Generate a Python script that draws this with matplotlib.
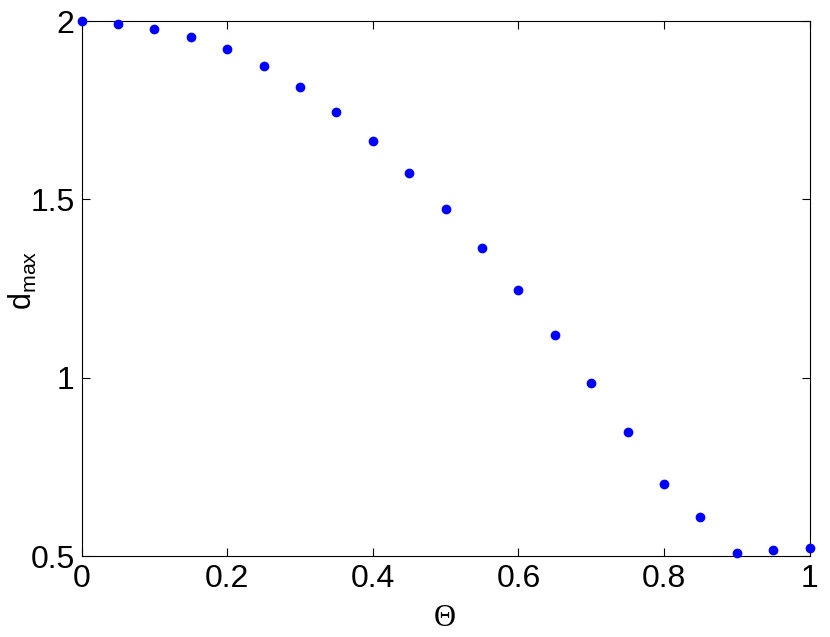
import numpy as np
import matplotlib
matplotlib.use('Agg')
import matplotlib.pyplot as plt

plt.rcParams['font.family'] = ['Liberation Sans', 'DejaVu Sans']
plt.rcParams['mathtext.fontset'] = 'custom'
plt.rcParams['mathtext.rm'] = 'Liberation Sans'
plt.rcParams['mathtext.it'] = 'Liberation Sans'

# data
theta = [0.0, 0.05, 0.1, 0.15, 0.2, 0.25, 0.3, 0.35, 0.4, 0.45, 0.5,
         0.55, 0.6, 0.65, 0.7, 0.75, 0.8, 0.85, 0.9, 0.95, 1.0]
dmax = [2.0, 1.993, 1.979, 1.956, 1.921, 1.874, 1.814, 1.745, 1.664, 1.573, 1.472,
        1.363, 1.245, 1.119, 0.986, 0.847, 0.703, 0.611, 0.509, 0.518, 0.523]
xticks = [0, 0.2, 0.4, 0.6, 0.8, 1]
yticks = [0.5, 1, 1.5, 2]

W, H = 830, 637
fig = plt.figure(figsize=(W / 100, H / 100), dpi=100)
ax = fig.add_axes([0.0984, 0.127, 0.877, 0.840])
ax.plot(theta, dmax, 'o', color='#0000ff', markersize=6, clip_on=False, zorder=3)

ax.set_xlim(0, 1)
ax.set_ylim(0.5, 2)
ax.set_xticks(xticks)
ax.set_xticklabels(['0', '0.2', '0.4', '0.6', '0.8', '1'])
ax.set_yticks(yticks)
ax.set_yticklabels(['0.5', '1', '1.5', '2'])
ax.tick_params(direction='in', top=True, right=True, length=6, width=0.8,
               labelsize=23)
ax.tick_params(axis='x', pad=6)
ax.tick_params(axis='y', pad=5)
for s in ax.spines.values():
    s.set_linewidth(0.8)

# axis labels placed in figure pixels
fig.text(445 / W, 1 - 618 / H, 'Θ', fontsize=22, ha='center', va='center',
         family=['Liberation Serif', 'DejaVu Serif'])
fig.text(23 / W, 1 - 280 / H, r'd$_{\mathrm{max}}$', fontsize=22, rotation=90,
         ha='center', va='center')

fig.savefig('out.png', dpi=100)
